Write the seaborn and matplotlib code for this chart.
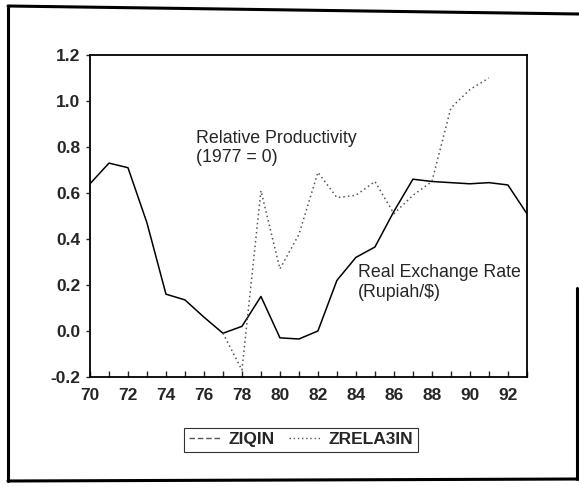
import matplotlib
matplotlib.use("Agg")
import matplotlib.pyplot as plt
import numpy as np
import pandas as pd
import seaborn as sns
from matplotlib.lines import Line2D
from matplotlib.ticker import MultipleLocator

# Data
years = list(range(70, 94))
ziqin = [0.64, 0.73, 0.71, 0.47, 0.16, 0.135, 0.06, -0.01, 0.02, 0.15,
         -0.03, -0.035, 0.0, 0.22, 0.32, 0.365, 0.52, 0.66, 0.65, 0.645,
         0.64, 0.645, 0.635, 0.51]
zrela3in = [np.nan] * 7 + [-0.01, -0.17, 0.61, 0.27, 0.42, 0.69, 0.58,
                           0.59, 0.65, 0.51, 0.59, 0.65, 0.97, 1.05, 1.10,
                           np.nan, np.nan]

df = pd.DataFrame({"year": years, "ZIQIN": ziqin, "ZRELA3IN": zrela3in})

sns.set_style("white")
plt.rcParams["font.family"] = ["Liberation Sans", "DejaVu Sans"]

fig = plt.figure(figsize=(5.79, 4.87), dpi=100)
ax = fig.add_axes([0.1554, 0.226, 0.7546, 0.661])

sns.lineplot(data=df, x="year", y="ZIQIN", ax=ax, color="black", linewidth=1.1)
sns.lineplot(data=df, x="year", y="ZRELA3IN", ax=ax, color="#555555",
             linewidth=1.1, linestyle=(0, (1, 2)))

ax.set_xlim(70, 93)
ax.set_ylim(-0.2, 1.2)
ax.xaxis.set_major_locator(MultipleLocator(2))
ax.xaxis.set_minor_locator(MultipleLocator(1))
ax.yaxis.set_major_locator(MultipleLocator(0.2))
ax.yaxis.set_major_formatter(matplotlib.ticker.FormatStrFormatter("%.1f"))
ax.set_xlabel("")
ax.set_ylabel("")
ax.tick_params(axis="x", which="both", direction="in", bottom=True,
               length=4, width=1, labelsize=12.5, pad=8)
ax.tick_params(axis="y", which="both", direction="out", left=True,
               length=3, width=1, labelsize=12.5, pad=4)
for lab in ax.get_xticklabels() + ax.get_yticklabels():
    lab.set_fontweight("bold")
for sp in ax.spines.values():
    sp.set_color("black")
    sp.set_linewidth(1.3)

ax.text(75.6, 0.875, "Relative Productivity\n(1977 = 0)", fontsize=12.8,
        va="top", ha="left", linespacing=1.2)
ax.text(84.1, 0.29, "Real Exchange Rate\n(Rupiah/$)", fontsize=12.8,
        va="top", ha="left", linespacing=1.2)

handles = [Line2D([], [], color="#555555", linewidth=1, linestyle=(0, (4, 2))),
           Line2D([], [], color="#555555", linewidth=1, linestyle=(0, (1, 2)))]
leg = fig.legend(handles, ["ZIQIN", "ZRELA3IN"], loc="center",
                 bbox_to_anchor=(0.52, 0.097), ncol=2, fancybox=False,
                 edgecolor="black", fontsize=12.5, handlelength=1.8,
                 columnspacing=0.8, borderpad=0.25, handletextpad=0.5,
                 borderaxespad=0.2)
leg.get_frame().set_linewidth(0.8)
for t in leg.get_texts():
    t.set_fontweight("bold")

# outer frame of the scanned page
fw, fh = 579.0, 487.0
frame_lines = [
    ((8, 579), (6, 14)),      # top
    ((8, 8), (6, 481)),       # left
    ((8, 579), (481, 479)),   # bottom
    ((577, 577), (288, 479)), # right (partial)
]
for xs, ys in frame_lines:
    fig.add_artist(Line2D([x / fw for x in xs], [1 - y / fh for y in ys],
                          color="black", linewidth=2.2))

fig.savefig("out.png", dpi=100)
plt.close(fig)
print("Generated out.png")
